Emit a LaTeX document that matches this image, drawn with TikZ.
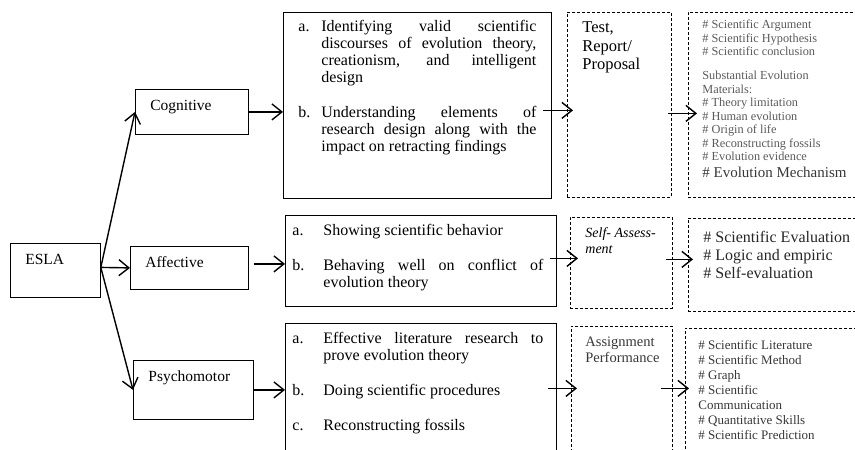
\documentclass[tikz,border=0pt]{standalone}
\usepackage{fontspec}
\setmainfont{Liberation Serif}
\usepackage{xcolor}
\usetikzlibrary{arrows.meta,positioning}
\definecolor{inkgray}{RGB}{90,90,90}
\definecolor{softgray}{RGB}{55,55,55}
\newcommand{\boxbody}[3]{\parbox[c][#2][t]{#1}{#3}}
\newcommand{\itm}[3]{\par\hangindent=#1\hangafter=1\noindent\makebox[#1][l]{#2}#3\par}
\newcommand{\goalfont}{\fontsize{16}{17}\selectfont\hyphenpenalty=10000\tolerance=9999\hbadness=10000}

\begin{document}
\begin{tikzpicture}[x=1pt, y=-1pt,
    solidbox/.style={draw, line width=0.8pt, anchor=north west, inner sep=0pt},
    dashbox/.style={solidbox, dash pattern=on 3pt off 2pt},
    domainbox/.style={solidbox, inner xsep=15pt, inner ysep=10.5pt, font=\fontsize{15.5}{18}\selectfont},
    link/.style={line width=1.4pt, -{Straight Barb[length=10pt,width=16pt]}}]
  \useasboundingbox (0,0) rectangle (855,450);
  \clip (0,0) rectangle (855,450);

  % domains
  \node[domainbox] (esla) at (10,243) {\boxbody{60pt}{33pt}{ESLA}};
  \node[domainbox] (cog) at (135,89) {\boxbody{83pt}{24pt}{Cognitive}};
  \node[domainbox] (aff) at (130,246) {\boxbody{88pt}{22pt}{Affective}};
  \node[domainbox] (psy) at (133,360) {\boxbody{90pt}{38pt}{Psychomotor}};

  % objectives
  \node[solidbox, inner xsep=15pt, inner ysep=8pt, font=\goalfont] (cogtxt) at (283,12) {\boxbody{238pt}{170pt}{%
    \itm{23pt}{a.}{Identifying valid scientific discourses of evolution theory, creationism, and intelligent design}\vspace{18pt}
    \itm{23pt}{b.}{Understanding elements of research design along with the impact on retracting findings}}};
  \node[solidbox, inner xsep=7pt, inner ysep=8.5pt, font=\goalfont] (afftxt) at (285,215) {\boxbody{257pt}{74pt}{\rightskip=6pt
    \itm{31pt}{a.}{Showing scientific behavior}\vspace{18pt}
    \itm{31pt}{b.}{Behaving well on conflict of evolution theory}}};
  \node[solidbox, inner xsep=7pt, inner ysep=8.5pt, font=\goalfont] (psytxt) at (285,323) {\boxbody{257pt}{118pt}{\rightskip=6pt
    \itm{31pt}{a.}{Effective literature research to prove evolution theory}\vspace{18pt}
    \itm{31pt}{b.}{Doing scientific procedures}\vspace{18pt}
    \itm{31pt}{c.}{Reconstructing fossils}}};

  % assessment forms
  \node[dashbox, inner xsep=15pt, inner ysep=9.5pt, font=\fontsize{16.5}{18.5}\selectfont] (test) at (567,12) {\boxbody{74pt}{166pt}{Test,\\Report/\\Proposal}};
  \node[dashbox, inner xsep=15pt, inner ysep=10pt, font=\fontsize{14}{16}\selectfont\itshape] (self) at (570,217) {\boxbody{72pt}{71pt}{Self- Assess-\\ment}};
  \node[dashbox, inner xsep=14pt, inner ysep=10.5pt, font=\fontsize{14.5}{15.5}\selectfont, text=softgray] (assign) at (571,326) {\boxbody{73pt}{109pt}{Assignment\\Performance}};

  % indicators
  \node[dashbox, inner xsep=14pt, inner ysep=7.5pt, font=\fontsize{12.3}{13.5}\selectfont, text=inkgray] (list1) at (688,12) {\boxbody{147pt}{170pt}{%
    \# Scientific Argument\\ \# Scientific Hypothesis\\ \# Scientific conclusion\\[10.5pt]
    Substantial Evolution\\ Materials:\\ \# Theory limitation\\ \# Human evolution\\ \# Origin of life\\
    \# Reconstructing fossils\\ \# Evolution evidence\\[3pt]
    {\fontsize{15}{17}\selectfont\color{softgray}\# Evolution Mechanism}}};
  \node[dashbox, inner xsep=15pt, inner ysep=12.5pt, font=\fontsize{16}{18}\selectfont, text=black!85] (list2) at (688,218) {\boxbody{160pt}{68pt}{%
    \# Scientific Evaluation\\ \# Logic and empiric\\ \# Self-evaluation}};
  \node[dashbox, inner xsep=13pt, inner ysep=12pt, font=\fontsize{13}{15}\selectfont, text=softgray] (list3) at (685,328) {\boxbody{150pt}{106pt}{%
    \# Scientific Literature\\ \# Scientific Method\\ \# Graph\\ \# Scientific\\ Communication\\
    \# Quantitative Skills\\ \# Scientific Prediction}};

  % connectors
  \coordinate (fork) at ([yshift=3pt]esla.east);
  \draw[link] (fork) -- (cog.west);
  \draw[link] (fork) -- (aff.west);
  \draw[link] (fork) -- (psy.west);

  \draw[link] (cog.east) -- (cog.east -| cogtxt.west);
  \draw[link] ([xshift=5pt,yshift=4pt]aff.east) -- ([yshift=4pt]aff.east -| afftxt.west);
  \draw[link] (psy.east) -- (psy.east -| psytxt.west);

  \draw[link, shorten <=-9pt, shorten >=-6pt] ([yshift=-5pt]cogtxt.east) -- ([yshift=-5pt]cogtxt.east -| test.west);
  \draw[link, shorten <=-7pt, shorten >=-8pt] ([yshift=2.5pt]afftxt.east) -- ([yshift=2.5pt]afftxt.east -| self.west);
  \draw[link, shorten <=-9pt, shorten >=-6pt] ([yshift=2.5pt]psytxt.east) -- ([yshift=2.5pt]psytxt.east -| assign.west);

  \draw[link, shorten <=-4pt, shorten >=-9pt] ([yshift=-8.5pt]test.east) -- ([yshift=-8.5pt]test.east -| list1.west);
  \draw[link, shorten <=-7pt, shorten >=-5pt] ([yshift=3.5pt]self.east) -- ([yshift=3.5pt]self.east -| list2.west);
  \draw[link, shorten <=-12pt, shorten >=-4pt] ([yshift=3pt]assign.east) -- ([yshift=3pt]assign.east -| list3.west);
\end{tikzpicture}
\end{document}
